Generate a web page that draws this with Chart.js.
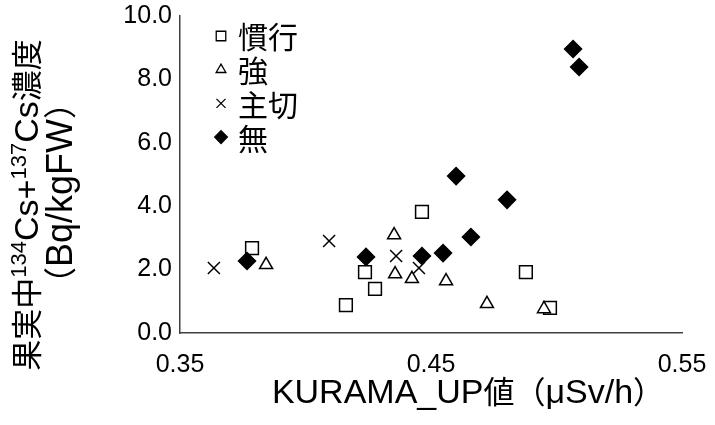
<!DOCTYPE html>
<html>
<head>
<meta charset="utf-8">
<script src="https://cdn.jsdelivr.net/npm/chart.js@4.4.1/dist/chart.umd.min.js"></script>
<style>
html,body{margin:0;padding:0;background:#fff;}
#wrap{width:715px;height:425px;position:relative;}
</style>
</head>
<body>
<div id="wrap"><canvas id="c" width="715" height="425"></canvas></div>
<script>
// ---- data ----
const seriesNames = ['慣行', '強', '主切', '無'];
const kankouX = [0.3787, 0.4237, 0.4277, 0.4161, 0.4464, 0.4878, 0.4974];
const kankouY = [2.68, 1.92, 1.39, 0.88, 3.82, 1.92, 0.79];
const kyouX = [0.3843, 0.4353, 0.4357, 0.4424, 0.4560, 0.4723, 0.4950];
const kyouY = [2.15, 3.09, 1.86, 1.71, 1.64, 0.92, 0.76];
const shusetsuX = [0.3635, 0.4094, 0.4361, 0.4452];
const shusetsuY = [2.05, 2.90, 2.43, 2.05];
const muX = [0.3767, 0.4241, 0.4464, 0.4548, 0.4659, 0.4600, 0.4803, 0.5066, 0.5090];
const muY = [2.27, 2.40, 2.43, 2.52, 3.03, 4.95, 4.20, 8.96, 8.39];
const xTicks = [0.35, 0.45, 0.55];
const yTicks = [0, 2, 4, 6, 8, 10];
const xTitle = 'KURAMA_UP値（μSv/h）';
const yTitleParts = [['果実中', false], ['134', true], ['Cs+', false], ['137', true], ['Cs濃度', false]];
const yTitle2 = '（Bq/kgFW）';

const LATIN = '"Liberation Sans", Arial, sans-serif';
const CJK = '"Noto Sans CJK JP", sans-serif';
const FONT = '"Liberation Sans", Arial, "Noto Sans CJK JP", sans-serif';
const pts = (xs, ys) => xs.map((x, i) => ({x: x, y: ys[i]}));

const styles = [
  {pointStyle: 'rect', radius: 9, bg: '#ffffff', order: 4},
  {pointStyle: 'triangle', radius: 7.5, bg: '#ffffff', order: 3},
  {pointStyle: 'crossRot', radius: 8.5, bg: '#ffffff', order: 2},
  {pointStyle: 'rectRot', radius: 8.5, bg: '#000000', order: 1}
];
const dataSets = [pts(kankouX, kankouY), pts(kyouX, kyouY), pts(shusetsuX, shusetsuY), pts(muX, muY)];

// split text into runs of CJK / latin, each with its own font
const isCJK = ch => /[\u3000-\u9fff\uff00-\uffef]/.test(ch);
function makeRuns(text, latinSize, cjkSize, dy) {
  const runs = [];
  for (const ch of text) {
    const c = isCJK(ch);
    const font = c ? (cjkSize + 'px ' + CJK) : (latinSize + 'px ' + LATIN);
    if (runs.length && runs[runs.length - 1].font === font && runs[runs.length - 1].dy === dy) runs[runs.length - 1].t += ch;
    else runs.push({t: ch, font: font, dy: dy || 0});
  }
  return runs;
}
function drawRuns(ctx, runs, cx, baseline) {
  let total = 0;
  runs.forEach(r => { ctx.font = r.font; r.w = ctx.measureText(r.t).width; total += r.w; });
  let x = cx - total / 2;
  ctx.textAlign = 'left';
  ctx.textBaseline = 'alphabetic';
  runs.forEach(r => { ctx.font = r.font; ctx.fillText(r.t, x, baseline + r.dy); x += r.w; });
}

const legendPlugin = {
  id: 'customLegend',
  afterDraw(chart) {
    const ctx = chart.ctx;
    ctx.save();
    const mx = 221, tx = 238, y0 = 36, dy = 33.7;
    chart.data.datasets.forEach((ds, i) => {
      const y = y0 + i * dy;
      ctx.strokeStyle = '#000';
      ctx.fillStyle = ds.backgroundColor;
      ctx.lineWidth = 1.3;
      Chart.helpers.drawPoint(ctx, {pointStyle: ds.pointStyle, radius: ds.pointRadius * 0.75, rotation: 0, borderWidth: 1.3}, mx, y);
      ctx.fillStyle = '#000';
      ctx.font = '30px ' + CJK;
      ctx.textBaseline = 'middle';
      ctx.textAlign = 'left';
      ctx.fillText(ds.label, tx, y + 1);
    });
    ctx.restore();
  }
};

const titlePlugin = {
  id: 'titles',
  afterDraw(chart) {
    const ctx = chart.ctx;
    ctx.save();
    ctx.fillStyle = '#000';
    // x title
    drawRuns(ctx, makeRuns(xTitle, 34, 31, 0), 468, 403);
    // y title (rotated): local (u, v) -> screen (v, -u)
    ctx.rotate(-Math.PI / 2);
    let runs = [];
    yTitleParts.forEach(p => {
      if (p[1]) runs = runs.concat(makeRuns(p[0], 22, 22, -12));
      else runs = runs.concat(makeRuns(p[0], 34, 31, 0));
    });
    drawRuns(ctx, runs, -205, 38);
    drawRuns(ctx, makeRuns(yTitle2, 36, 33, 0), -193, 72);
    ctx.restore();
  }
};

new Chart(document.getElementById('c'), {
  type: 'scatter',
  data: {
    datasets: dataSets.map((d, i) => ({
      label: seriesNames[i],
      data: d,
      pointStyle: styles[i].pointStyle,
      pointRadius: styles[i].radius,
      pointHoverRadius: styles[i].radius,
      pointBackgroundColor: styles[i].bg,
      backgroundColor: styles[i].bg,
      pointBorderColor: '#000',
      borderColor: '#000',
      pointBorderWidth: 1.5,
      order: styles[i].order
    }))
  },
  options: {
    responsive: false,
    animation: false,
    events: [],
    layout: {padding: {left: 0, top: 16, right: 33, bottom: 0}},
    plugins: {legend: {display: false}, tooltip: {enabled: false}},
    scales: {
      x: {
        type: 'linear', min: 0.35, max: 0.55,
        afterBuildTicks: s => { s.ticks = xTicks.map(v => ({value: v})); },
        afterFit: s => { s.height = 92; s.paddingLeft = 0; s.paddingRight = 0; s.paddingTop = 0; s.paddingBottom = 0; },
        grid: {display: false, drawTicks: false},
        border: {display: true, color: '#404040', width: 1.5},
        ticks: {padding: 17, color: '#000', font: {family: FONT, size: 25}, maxRotation: 0,
          callback: v => v.toFixed(2)}
      },
      y: {
        type: 'linear', min: 0, max: 10,
        afterBuildTicks: s => { s.ticks = yTicks.map(v => ({value: v})); },
        afterFit: s => { s.width = 180; s.paddingLeft = 0; s.paddingRight = 0; s.paddingTop = 0; s.paddingBottom = 0; },
        grid: {display: false, drawTicks: false},
        border: {display: true, color: '#404040', width: 1.5},
        ticks: {padding: 8, color: '#000', font: {family: FONT, size: 25},
          callback: v => v.toFixed(1)}
      }
    }
  },
  plugins: [legendPlugin, titlePlugin]
});
</script>
</body>
</html>
